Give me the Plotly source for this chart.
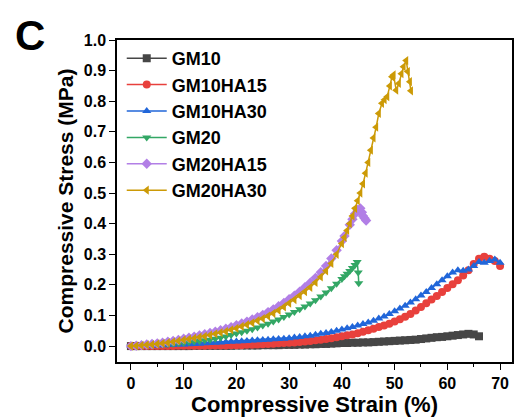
import plotly.graph_objects as go

# ---- data ----
gm10_x = list(range(0, 67))
gm10_y = [0.000, 0.000, 0.000, 0.000, 0.000, 0.000, 0.000, 0.000, 0.000, 0.000,
          0.000, 0.000, 0.001, 0.001, 0.001, 0.001, 0.001, 0.001, 0.001, 0.001,
          0.002, 0.002, 0.002, 0.002, 0.002, 0.003, 0.003, 0.003, 0.003, 0.004,
          0.004, 0.004, 0.005, 0.005, 0.006, 0.006, 0.007, 0.007, 0.008, 0.009,
          0.010, 0.010, 0.011, 0.011, 0.012, 0.012, 0.013, 0.014, 0.015, 0.016,
          0.017, 0.018, 0.019, 0.020, 0.021, 0.023, 0.025, 0.027, 0.029, 0.030,
          0.032, 0.034, 0.036, 0.038, 0.040, 0.038, 0.032]

gm10ha15_x = list(range(0, 71))
gm10ha15_y = [0.000, 0.000, 0.000, 0.000, 0.000, 0.000, 0.000, 0.000, 0.000, 0.001,
              0.001, 0.001, 0.001, 0.001, 0.001, 0.002, 0.002, 0.002, 0.002, 0.003,
              0.003, 0.003, 0.004, 0.004, 0.005, 0.006, 0.007, 0.008, 0.009, 0.010,
              0.011, 0.012, 0.013, 0.015, 0.017, 0.019, 0.021, 0.023, 0.026, 0.029,
              0.032, 0.035, 0.038, 0.042, 0.047, 0.052, 0.057, 0.062, 0.067, 0.073,
              0.080, 0.088, 0.096, 0.105, 0.116, 0.128, 0.140, 0.152, 0.164, 0.177,
              0.190, 0.202, 0.215, 0.231, 0.248, 0.268, 0.285, 0.292, 0.285, 0.278,
              0.262]

gm10ha30_x = list(range(0, 71))
gm10ha30_y = [0.000, 0.001, 0.001, 0.002, 0.002, 0.003, 0.003, 0.004, 0.004, 0.005,
              0.005, 0.006, 0.007, 0.008, 0.009, 0.010, 0.011, 0.012, 0.013, 0.014,
              0.015, 0.016, 0.017, 0.018, 0.019, 0.020, 0.021, 0.022, 0.023, 0.024,
              0.026, 0.028, 0.030, 0.032, 0.034, 0.037, 0.040, 0.043, 0.046, 0.050,
              0.054, 0.058, 0.062, 0.067, 0.072, 0.077, 0.083, 0.090, 0.097, 0.105,
              0.114, 0.123, 0.132, 0.142, 0.153, 0.165, 0.177, 0.190, 0.202, 0.215,
              0.228, 0.240, 0.248, 0.246, 0.250, 0.262, 0.275, 0.272, 0.278, 0.283,
              0.272]

gm20_x = list(range(0, 41)) + [40.5, 41, 41.5, 42, 42.5, 42.9, 43.1, 43.2]
gm20_y = [0.000, 0.001, 0.001, 0.002, 0.003, 0.004, 0.005, 0.006, 0.008, 0.009,
          0.011, 0.013, 0.015, 0.017, 0.019, 0.021, 0.024, 0.027, 0.031, 0.036,
          0.041, 0.045, 0.050, 0.055, 0.061, 0.067, 0.073, 0.080, 0.087, 0.095,
          0.103, 0.111, 0.120, 0.129, 0.139, 0.150, 0.162, 0.175, 0.189, 0.204,
          0.219, 0.228, 0.236, 0.245, 0.255, 0.265, 0.275, 0.240, 0.205]

gm20ha15_x = list(range(0, 41)) + [40.5, 41.5, 42, 42.5, 43, 43.5, 43.8, 44, 44.3, 44.6]
gm20ha15_y = [0.000, 0.001, 0.003, 0.005, 0.007, 0.009, 0.011, 0.014, 0.017, 0.020,
              0.024, 0.027, 0.031, 0.035, 0.039, 0.043, 0.047, 0.052, 0.057, 0.062,
              0.068, 0.074, 0.080, 0.087, 0.094, 0.102, 0.111, 0.120, 0.130, 0.141,
              0.153, 0.165, 0.178, 0.192, 0.207, 0.223, 0.241, 0.262, 0.286, 0.313,
              0.343, 0.360, 0.396, 0.414, 0.432, 0.445, 0.450, 0.437, 0.425, 0.418,
              0.410]

gm20ha30_x = list(range(0, 41)) + [40.5, 41, 41.5, 42, 42.5, 43, 43.5, 44, 44.5,
                                   45, 45.5, 46, 46.5, 47, 47.6, 48.1, 48.6, 49.1,
                                   49.5, 49.8, 50.3, 50.8, 51.3, 51.7, 52.2, 52.5,
                                   52.9, 53.1]
gm20ha30_y = [0.000, 0.001, 0.002, 0.004, 0.005, 0.007, 0.009, 0.011, 0.014, 0.017,
              0.020, 0.023, 0.026, 0.029, 0.032, 0.036, 0.040, 0.044, 0.048, 0.053,
              0.058, 0.064, 0.070, 0.076, 0.083, 0.090, 0.098, 0.107, 0.117, 0.128,
              0.140, 0.152, 0.165, 0.178, 0.192, 0.208, 0.226, 0.246, 0.270, 0.300,
              0.335, 0.355, 0.378, 0.400, 0.425, 0.450, 0.475, 0.500, 0.530, 0.565,
              0.600, 0.640, 0.680, 0.715, 0.760, 0.793, 0.805, 0.815, 0.850, 0.880,
              0.886, 0.836, 0.858, 0.890, 0.913, 0.933, 0.897, 0.864, 0.834]

names = ["GM10", "GM10HA15", "GM10HA30", "GM20", "GM20HA15", "GM20HA30"]
xs = [gm10_x, gm10ha15_x, gm10ha30_x, gm20_x, gm20ha15_x, gm20ha30_x]
ys = [gm10_y, gm10ha15_y, gm10ha30_y, gm20_y, gm20ha15_y, gm20ha30_y]
colors = ["#464646", "#e8403c", "#2166d9", "#33a765", "#b27fe6", "#cc9a06"]
symbols = ["square", "circle", "triangle-up", "triangle-down", "diamond", "triangle-left"]

x_ticks = [0, 10, 20, 30, 40, 50, 60, 70]
y_ticks = [0.0, 0.1, 0.2, 0.3, 0.4, 0.5, 0.6, 0.7, 0.8, 0.9, 1.0]

fig = go.Figure()
for n, x, y, c, s in zip(names, xs, ys, colors, symbols):
    fig.add_trace(go.Scatter(x=x, y=y, name=n, mode="lines+markers",
                             line=dict(color=c, width=1.5),
                             marker=dict(color=c, symbol=s, size=8,
                                         line=dict(width=0))))

font_family = "Liberation Sans, Arial, sans-serif"
fig.update_layout(
    width=519, height=419,
    margin=dict(l=117, r=5, t=40, b=57),
    paper_bgcolor="white", plot_bgcolor="white",
    font=dict(family=font_family, color="black"),
    showlegend=True,
    legend=dict(x=0.012, y=1.0, xanchor="left", yanchor="top",
                bgcolor="rgba(0,0,0,0)",
                font=dict(size=18, family=font_family, color="black", weight="bold"),
                itemwidth=40, tracegroupgap=0),
    annotations=[dict(text="<b>C</b>", xref="paper", yref="paper",
                      x=-0.219, y=1.013, xanchor="center", yanchor="middle",
                      showarrow=False, font=dict(size=42, family=font_family))],
)
fig.update_xaxes(range=[-2.64, 72.26], tickvals=x_ticks,
                 ticks="outside", ticklen=6, tickwidth=1.2, tickcolor="black",
                 minor=dict(ticks="outside", ticklen=3, tickcolor="black", dtick=5, tick0=0),
                 showline=True, linecolor="black", linewidth=1.5, mirror=True,
                 showgrid=False, zeroline=False,
                 tickfont=dict(size=16, weight="bold"),
                 title=dict(text="Compressive Strain (%)", standoff=4,
                            font=dict(size=22, weight="bold")))
fig.update_yaxes(range=[-0.052, 1.0], tickvals=y_ticks, tickformat=".1f",
                 ticks="outside", ticklen=6, tickwidth=1.2, tickcolor="black",
                 showline=True, linecolor="black", linewidth=1.5, mirror=True,
                 showgrid=False, zeroline=False,
                 tickfont=dict(size=16, weight="bold"),
                 title=dict(text="Compressive Stress (MPa)", standoff=4,
                            font=dict(size=21, weight="bold")))

fig.write_html("out.html", config={"displayModeBar": False},
               post_script="document.body.style.margin='0px';")
